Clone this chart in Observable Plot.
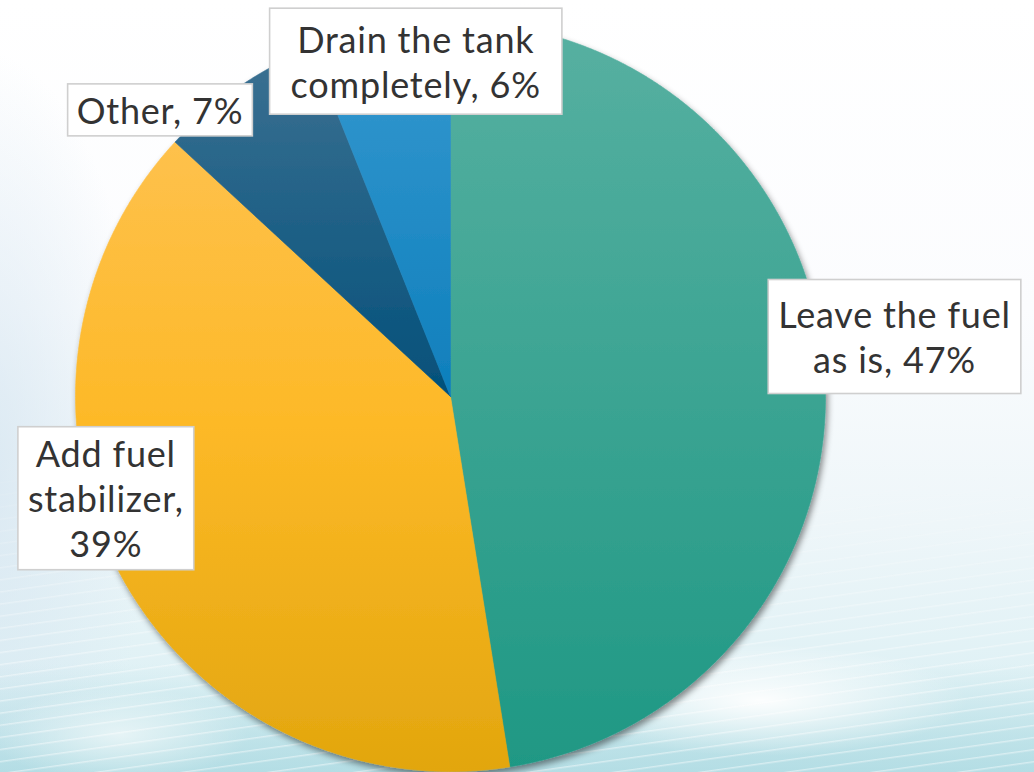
<!DOCTYPE html>
<html>
<head>
<meta charset="utf-8">
<script src="https://cdn.jsdelivr.net/npm/d3@7"></script>
<script src="https://cdn.jsdelivr.net/npm/@observablehq/plot@0.6"></script>
<style>
  html, body { margin: 0; padding: 0; background: #ffffff; overflow: hidden; }
  #chart {
    position: relative; width: 1034px; height: 772px; overflow: hidden;
    background:
      radial-gradient(ellipse 260px 70px at 760px 700px, rgba(255,255,255,0.95), rgba(255,255,255,0) 80%),
      radial-gradient(ellipse 160px 60px at 120px 735px, rgba(255,255,255,0.6), rgba(255,255,255,0) 80%),
      linear-gradient(to bottom, rgba(180,222,229,0) 86%, rgba(168,216,224,0.7) 100%),
      radial-gradient(ellipse 170px 420px at -20px 470px, rgba(214,230,241,0.85), rgba(214,230,241,0) 100%),
      linear-gradient(to bottom, #ffffff 0%, #fbfcfe 40%, #eef6f9 68%, #dff1f5 88%, #cfeaef 100%);
  }
  #streaks {
    position: absolute; left: 0; top: 0; width: 1034px; height: 772px;
    background: repeating-linear-gradient(172deg, rgba(255,255,255,0) 0px, rgba(255,255,255,0) 9px, rgba(255,255,255,0.45) 10px, rgba(255,255,255,0) 12px);
    -webkit-mask-image: linear-gradient(to bottom, rgba(0,0,0,0) 58%, rgba(0,0,0,1) 88%);
    mask-image: linear-gradient(to bottom, rgba(0,0,0,0) 58%, rgba(0,0,0,1) 88%);
  }
  #chart svg { position: absolute; left: 0; top: 0; }
</style>
</head>
<body>
<div id="chart"><div id="streaks"></div></div>
<script>
// ---- data ----
const categories = ["Leave the fuel as is", "Add fuel stabilizer", "Other", "Drain the tank completely"];
const shares = [47, 39, 7, 6];
const labelTexts = ["Leave the fuel\nas is, 47%", "Add fuel\nstabilizer,\n39%", "Other, 7%", "Drain the tank\ncompletely, 6%"];

// ---- styles / layout ----
const sliceGradients = [
  [["0%", "#57b0a1"], ["100%", "#1f9884"]],
  [["0%", "#fec14c"], ["45%", "#fdb927"], ["100%", "#e2a60e"]],
  [["0%", "#3c7192"], ["100%", "#03507a"]],
  [["0%", "#3799d0"], ["100%", "#0e7fbc"]]
];
const labelLayout = [
  { radius: 1.195, turn: -3.2, padX: 10, boxH: 114 },
  { radius: 0.958, turn: 11.8, padX: 10, boxH: 143 },
  { radius: 1.089, turn: -10.8, padX: 9, boxH: 52 },
  { radius: 0.900, turn: 5.0, padX: 21, boxH: 106 }
];
const W = 1034, H = 772, CX = 450, CY = 396, R = 375;

// ---- geometry from data ----
const arcs = d3.pie().sort(null).value(d => d)(shares);
const slicePoints = arcs.flatMap((a, i) => {
  const key = categories[i];
  const pts = [{ key, x: 0, y: 0 }];
  const n = Math.max(2, Math.ceil((a.endAngle - a.startAngle) / 0.004));
  for (let k = 0; k <= n; k++) {
    const t = a.startAngle + (a.endAngle - a.startAngle) * k / n;
    pts.push({ key, x: Math.sin(t), y: Math.cos(t) });
  }
  pts.push({ key, x: 0, y: 0 });
  return pts;
});
const labelData = arcs.map((a, i) => {
  const t = (a.startAngle + a.endAngle) / 2 + labelLayout[i].turn * Math.PI / 180;
  const r = labelLayout[i].radius;
  return { key: categories[i], text: labelTexts[i], x: r * Math.sin(t), y: r * Math.cos(t) };
});

const plot = Plot.plot({
  width: W, height: H,
  margin: 0,
  x: { domain: [-CX / R, (W - CX) / R], range: [0, W], axis: null },
  y: { domain: [-(H - CY) / R, CY / R], range: [H, 0], axis: null },
  color: { domain: categories, range: categories.map((d, i) => `url(#sliceGrad${i})`) },
  style: { background: "transparent", overflow: "visible" },
  marks: [
    Plot.line(slicePoints, { x: "x", y: "y", z: "key", fill: "key", stroke: "key", strokeWidth: 0.6, curve: "linear" }),
    Plot.text(labelData, {
      x: "x", y: "y", text: "text",
      fontSize: 36, lineHeight: 1.25, fill: "#333333",
      fontFamily: "Lato, 'Open Sans', sans-serif", fontWeight: 400
    })
  ]
});

document.getElementById("chart").appendChild(plot);

// ---- decorations: gradients, shadow, label boxes ----
const svg = d3.select(plot);
const defs = svg.insert("defs", ":first-child");
sliceGradients.forEach((stops, i) => {
  const g = defs.append("linearGradient").attr("id", `sliceGrad${i}`)
    .attr("x1", 0).attr("y1", 0).attr("x2", 0).attr("y2", 1);
  stops.forEach(([o, c]) => g.append("stop").attr("offset", o).attr("stop-color", c));
});
const f = defs.append("filter").attr("id", "pieShadow")
  .attr("x", "-10%").attr("y", "-10%").attr("width", "125%").attr("height", "125%");
f.append("feDropShadow").attr("dx", 2).attr("dy", 4).attr("stdDeviation", 3)
  .attr("flood-color", "#000").attr("flood-opacity", 0.45);
svg.select('g[aria-label="line"]').attr("filter", "url(#pieShadow)");

const textG = svg.select('g[aria-label="text"]');
textG.style("letter-spacing", "0.8px");
const svgRect = plot.getBoundingClientRect();
const boxes = [];
textG.selectAll("text").each(function () {
  const b = this.getBoundingClientRect();
  const lay = labelLayout[boxes.length];
  const cx = b.left - svgRect.left + b.width / 2;
  const cy = b.top - svgRect.top + b.height / 2;
  const w = b.width + 2 * lay.padX;
  boxes.push({ x: cx - w / 2, y: cy - lay.boxH / 2, w, h: lay.boxH });
});
const boxG = svg.insert("g", 'g[aria-label="text"]').attr("aria-label", "label boxes");
boxG.selectAll("rect").data(boxes).join("rect")
  .attr("x", d => d.x).attr("y", d => d.y)
  .attr("width", d => d.w).attr("height", d => d.h)
  .attr("fill", "#ffffff").attr("stroke", "#cfcfcf").attr("stroke-width", 1.6);
</script>
</body>
</html>
